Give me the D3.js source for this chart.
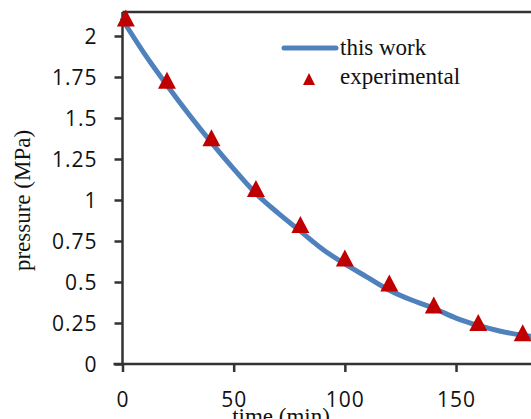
<!DOCTYPE html>
<html>
<head>
<meta charset="utf-8">
<script src="https://cdn.jsdelivr.net/npm/d3@7"></script>
<style>
  body { margin: 0; background: #fff; overflow: hidden; }
  svg { display: block; }
</style>
</head>
<body>
<div id="chart"></div>
<script>
// model curve ("this work")
var modelTime = [0, 10, 20, 30, 40, 50, 60, 70, 80, 90, 100, 110, 120, 130, 140, 150, 160, 170, 180, 186];
var modelPressure = [2.10, 1.89, 1.70, 1.52, 1.35, 1.19, 1.04, 0.92, 0.81, 0.70, 0.61, 0.53, 0.45, 0.39, 0.34, 0.28, 0.235, 0.20, 0.175, 0.165];

// experimental points
var expTime = [1.5, 20, 40, 60, 80, 100, 120, 140, 160, 180];
var expPressure = [2.11, 1.73, 1.38, 1.07, 0.85, 0.646, 0.494, 0.36, 0.253, 0.19];

var yTicks = [0, 0.25, 0.5, 0.75, 1, 1.25, 1.5, 1.75, 2];
var xTicks = [0, 50, 100, 150];

var W = 531, H = 419;
var svg = d3.select("#chart").append("svg")
    .attr("width", W)
    .attr("height", H);

// scales (plot area runs past the right edge, as in the source)
var x = d3.scaleLinear().domain([0, 200]).range([122.5, 567.2]);
var y = d3.scaleLinear().domain([0, 2]).range([364, 36]);
var yTop = y(2.146);

var axisColor = "#333333";
var tickFont = "'Open Sans', sans-serif";
var serif = "'Liberation Serif', 'Times New Roman', serif";

// top border of plot area
svg.append("line")
    .attr("x1", x(0)).attr("x2", W + 5)
    .attr("y1", yTop).attr("y2", yTop)
    .attr("stroke", axisColor).attr("stroke-width", 2.5);

// y axis
var yAxis = svg.append("g")
    .attr("transform", "translate(" + x(0) + ",0)")
    .call(d3.axisLeft(y).tickValues(yTicks).tickSize(8).tickPadding(16)
        .tickFormat(d3.format("")));
yAxis.select(".domain").attr("d", "M0," + yTop + "V" + (y(0) + 1))
    .attr("stroke", axisColor).attr("stroke-width", 2.5);
yAxis.selectAll(".tick line").attr("stroke", axisColor).attr("stroke-width", 2.5);
yAxis.selectAll(".tick text")
    .attr("font-family", tickFont).attr("font-size", 21).attr("fill", "#111")
    .attr("letter-spacing", 1)
    .attr("x", -25)
    .attr("dy", "0.36em");

// x axis
var xAxis = svg.append("g")
    .attr("transform", "translate(0," + y(0) + ")")
    .call(d3.axisBottom(x).tickValues(xTicks).tickSize(8));
xAxis.select(".domain").attr("d", "M" + (x(0) - 9) + ",0H" + (W + 5))
    .attr("stroke", axisColor).attr("stroke-width", 2.5);
xAxis.selectAll(".tick line").attr("stroke", axisColor).attr("stroke-width", 2.5);
xAxis.selectAll(".tick text")
    .attr("font-family", tickFont).attr("font-size", 21).attr("fill", "#111")
    .attr("letter-spacing", 1)
    .attr("y", 43)
    .attr("dy", 0);

// model line
var line = d3.line()
    .x(function(d, i) { return x(modelTime[i]); })
    .y(function(d) { return y(d); })
    .curve(d3.curveMonotoneX);

svg.append("path")
    .datum(modelPressure)
    .attr("d", line)
    .attr("fill", "none")
    .attr("stroke", "#4f81bd")
    .attr("stroke-width", 5)
    .attr("stroke-linecap", "round");

// triangle markers
function tri(w, h) {
    return "M0," + (-h / 2) + "L" + (w / 2) + "," + (h / 2) + "L" + (-w / 2) + "," + (h / 2) + "Z";
}

svg.selectAll(".pt")
    .data(expPressure)
    .enter()
    .append("path")
    .attr("class", "pt")
    .attr("d", tri(18, 17))
    .attr("transform", function(d, i) { return "translate(" + x(expTime[i]) + "," + y(d) + ")"; })
    .attr("fill", "#c00000");

// legend
svg.append("line")
    .attr("x1", 284).attr("x2", 336)
    .attr("y1", 48).attr("y2", 48)
    .attr("stroke", "#4f81bd").attr("stroke-width", 5)
    .attr("stroke-linecap", "round");
svg.append("text")
    .attr("x", 340).attr("y", 55)
    .attr("font-family", serif).attr("font-size", 23).attr("fill", "#111")
    .text("this work");
svg.append("path")
    .attr("d", tri(12, 12))
    .attr("transform", "translate(309,79)")
    .attr("fill", "#c00000");
svg.append("text")
    .attr("x", 340).attr("y", 84)
    .attr("font-family", serif).attr("font-size", 23).attr("fill", "#111")
    .text("experimental");

// axis titles
svg.append("text")
    .attr("transform", "translate(30,200.5) rotate(-90)")
    .attr("text-anchor", "middle")
    .attr("font-family", serif).attr("font-size", 23).attr("fill", "#111")
    .text("pressure (MPa)");
svg.append("text")
    .attr("x", 281).attr("y", 424)
    .attr("text-anchor", "middle")
    .attr("font-family", serif).attr("font-size", 23).attr("fill", "#111")
    .text("time (min)");
</script>
</body>
</html>
